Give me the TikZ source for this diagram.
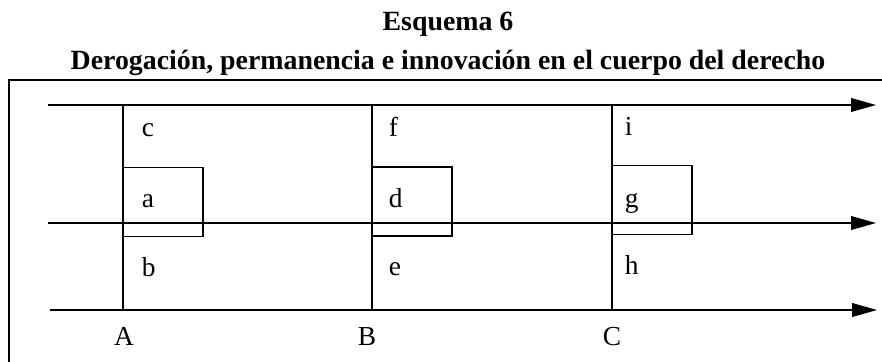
\documentclass[tikz,border=0pt]{standalone}
\usepackage{fontspec}
\setmainfont{Liberation Serif}
\usepackage{tikz}
\usetikzlibrary{arrows.meta,positioning}

\begin{document}
\begin{tikzpicture}[x=0.025cm,y=-0.025cm,line width=1.2pt,
    >={Triangle[length=0.62cm,width=0.34cm]}]
        \useasboundingbox (0,0) rectangle (882,362);
        \node[font=\fontsize{19.8}{22}\selectfont\bfseries,anchor=base,inner sep=0pt] (tit) at (448,30) {Esquema 6};
        \node[font=\fontsize{19.8}{22}\selectfont\bfseries,anchor=base,inner sep=0pt] (sub) at (448,69)
          {Derogación, permanencia e innovación en el cuerpo del derecho};
        \draw[line width=1.3pt] (9,362) -- (9,80) -- (882,80);
        \begin{scope}
          \coordinate (t0) at (48,105);  \coordinate (t1) at (876,105);
          \coordinate (m0) at (48,223);  \coordinate (m1) at (876,223);
          \coordinate (b0) at (50,310);  \coordinate (b1) at (877,310);
          \coordinate (At) at (123,105); \coordinate (Ab) at (123,310);
          \coordinate (Bt) at (372,105); \coordinate (Bb) at (372,310);
          \coordinate (Ct) at (612,105); \coordinate (Cb) at (612,310);
        \end{scope}
        \begin{scope}[every edge/.style={draw=black,->}]
          \path (t0) edge (t1);
          \path (m0) edge (m1);
          \path (b0) edge (b1);
        \end{scope}
        \begin{scope}[every edge/.style={draw=black}]
          \path (At) edge (Ab);
          \path (Bt) edge (Bb);
          \path (Ct) edge (Cb);
        \end{scope}
        \begin{scope}[every node/.style={draw,minimum width=2cm,minimum height=1.72cm,inner sep=0pt}]
          \node (ra) at (163,202) {};
          \node (rd) at (412,201.5) {};
          \node (rg) at (652,200) {};
        \end{scope}
        \begin{scope}[every node/.style={font=\fontsize{19.5}{22}\selectfont,inner sep=0pt,anchor=base west}]
          \node (c) at (141,136) {c};
          \node (a) at (141,207) {a};
          \node (b) at (141,276) {b};
          \node (f) at (388,136) {f};
          \node (d) at (388,207) {d};
          \node (e) at (388,275) {e};
          \node (i) at (624,135) {i};
          \node (g) at (624,207) {g};
          \node (h) at (624,274) {h};
        \end{scope}
        \begin{scope}[every node/.style={font=\fontsize{19.5}{22}\selectfont,inner sep=0pt,anchor=base}]
          \node (A) at (124,345) {A};
          \node (B) at (367,345) {B};
          \node (C) at (612,345) {C};
        \end{scope}
      \end{tikzpicture}
\end{document}
